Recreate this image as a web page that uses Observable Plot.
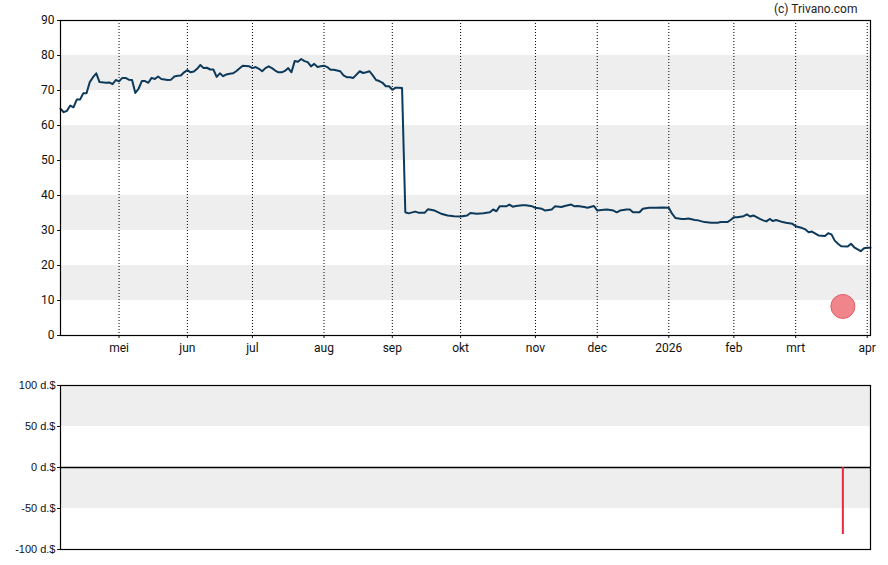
<!DOCTYPE html>
<html>
<head>
<meta charset="utf-8">
<script src="https://cdn.jsdelivr.net/npm/d3@7"></script>
<script src="https://cdn.jsdelivr.net/npm/@observablehq/plot@0.6"></script>
<style>
  html, body { margin: 0; padding: 0; background: #fff; }
  #chart svg { display: block; }
</style>
</head>
<body>
<div id="chart"></div>
<script>
// trading-day index (0 = first day shown, early April 2025; 249 = early April 2026)
const dayIndex = [0,1,2,3,4,5,6,7,8,9,10,11,12,14,15,16,17,18,19,20,21,22,23,24,25,26,27,28,29,30,31,33,34,35,36,37,38,39,40,41,42,43,44,45,46,47,48,49,50,51,52,53,54,56,58,59,60,61,62,63,64,65,66,67,68,69,70,71,72,73,74,75,76,77,78,79,80,81,82,83,84,86,87,88,89,90,92,93,94,95,96,97,98,99,100,101,102,103,104,105,106,107,109,110,112,113,115,117,119,121,123,125,126,128,130,132,133,134,135,137,138,139,140,142,143,145,146,148,149,151,152,154,155,157,158,159,161,162,164,165,167,168,170,171,172,174,175,176,178,179,181,183,185,187,188,189,191,192,193,195,196,198,200,202,203,205,206,207,208,210,211,212,213,215,216,217,218,219,220,222,223,225,226,228,229,230,231,233,235,236,237,238,239,240,242,243,244,246,247,248,249];
const closePrice = [64.8,63.8,64.2,65.7,65.2,67.4,67.4,69.2,69.2,72.4,73.8,74.9,72.4,72.2,72.3,71.8,73.0,72.6,73.6,73.6,73.1,73.0,69.3,70.5,72.7,72.7,72.2,73.6,73.3,74.0,73.3,73.0,73.1,74.0,74.2,74.3,75.2,75.8,75.2,75.4,76.2,77.3,76.4,76.5,76.0,76.0,73.9,74.9,74.1,74.6,74.8,74.9,75.5,77.1,76.9,76.4,76.7,76.2,75.5,76.4,76.9,76.4,75.7,75.2,75.2,75.6,76.4,75.2,78.4,78.2,79.0,78.4,78.1,76.9,77.6,76.7,76.9,77.1,76.7,75.9,75.9,75.5,74.3,73.8,73.8,73.6,75.5,75.0,75.2,75.5,74.3,73.0,72.7,72.2,71.2,71.2,70.2,70.8,70.8,70.7,35.2,34.9,35.4,35.1,35.1,36.1,35.7,34.8,34.3,34.1,34.0,34.3,35.0,34.8,34.9,35.2,36.0,35.5,36.9,36.9,37.4,36.8,37.0,37.2,37.2,36.9,36.5,36.2,35.7,36.0,36.9,36.7,37.0,37.4,36.9,37.0,36.7,36.5,37.0,35.7,35.9,36.0,35.7,35.2,35.7,36.0,36.0,35.2,35.2,36.2,36.5,36.5,36.6,36.5,34.8,33.6,33.3,33.3,33.4,33.0,32.9,32.4,32.2,32.2,32.4,32.4,33.0,33.8,33.8,34.1,34.6,34.0,34.3,33.3,32.9,32.6,33.3,32.7,33.0,32.4,32.2,31.9,31.2,30.7,30.3,29.5,29.7,28.6,28.4,29.2,28.9,27.1,26.2,25.5,25.4,26.2,25.2,24.1,24.9,25.1,25.1];

// month ticks (first trading day of each month)
const monthTickIndex = [18,39,59,81,102,123,146,165,187,207,226,248];
const monthLabels = ["mei","jun","jul","aug","sep","okt","nov","dec","2026","feb","mrt","apr"];

// price axis
const priceTicks = [0,10,20,30,40,50,60,70,80,90];
const priceBands = [[10,20],[30,40],[50,60],[70,80]];

// dividend
const dividendIndex = [240.5];
const dividendAmount = [-81.7];
const markerValue = [8.3];

// dividend panel axis
const divTicks = [-100,-50,0,50,100];
const divBands = [[50,100],[-50,0]];

const lastIndex = 249;
const series = dayIndex.map((d, i) => ({i: d, v: closePrice[i]}));
const monthMap = new Map(monthTickIndex.map((d, i) => [d, monthLabels[i]]));
const bandRows = priceBands.map(([a, b]) => ({a, b}));
const divBandRows = divBands.map(([a, b]) => ({a, b}));
const markers = dividendIndex.map((d, i) => ({i: d, v: markerValue[i]}));
const divRows = dividendIndex.map((d, i) => ({i: d, amt: dividendAmount[i]}));

const pricePlot = Plot.plot({
  width: 888,
  height: 365,
  marginTop: 20,
  marginBottom: 30,
  marginLeft: 60,
  marginRight: 18,
  style: {fontFamily: "Roboto", fontSize: "12px", color: "#111", background: "#fff"},
  x: {domain: [0, lastIndex], axis: null},
  y: {domain: [0, 90], axis: null},
  marks: [
    Plot.rect(bandRows, {y1: "a", y2: "b", fill: "#eeeeee"}),
    Plot.ruleX(monthTickIndex, {stroke: "#000", strokeDasharray: "1,2", strokeWidth: 1}),
    Plot.line(series, {x: "i", y: "v", stroke: "#0d3a5b", strokeWidth: 2, curve: "linear"}),
    Plot.dot(markers, {x: "i", y: "v", r: 12, fill: "#f0858b", stroke: "#e65b66", strokeWidth: 1}),
    Plot.frame({stroke: "#000", strokeWidth: 1.2}),
    Plot.axisY(priceTicks, {tickSize: 3, tickPadding: 3, fontSize: 12, label: null}),
    Plot.axisX(monthTickIndex, {tickSize: 3, tickPadding: 5, fontSize: 12, label: null, tickFormat: d => monthMap.get(d)}),
    Plot.text(["(c) Trivano.com"], {frameAnchor: "top-right", textAnchor: "end", lineAnchor: "middle", dx: -13, dy: -11.5, fontSize: 12, fill: "#222"})
  ]
});

const dividendPlot = Plot.plot({
  width: 888,
  height: 200,
  marginTop: 20,
  marginBottom: 16,
  marginLeft: 60,
  marginRight: 18,
  style: {fontFamily: "Arial, 'Liberation Sans'", fontSize: "11px", color: "#111", background: "#fff"},
  x: {domain: [0, lastIndex], axis: null},
  y: {domain: [-100, 100], axis: null},
  marks: [
    Plot.rect(divBandRows, {y1: "a", y2: "b", fill: "#eeeeee"}),
    Plot.ruleY([0], {stroke: "#000", strokeWidth: 1.3}),
    Plot.ruleX(divRows, {x: "i", y1: 0, y2: "amt", stroke: "#e8283c", strokeWidth: 2}),
    Plot.frame({stroke: "#000", strokeWidth: 1.2}),
    Plot.axisY(divTicks, {tickSize: 3, tickPadding: 2, fontSize: 11, label: null, tickFormat: d => d + " d.$"})
  ]
});

const root = document.getElementById("chart");
root.append(pricePlot, dividendPlot);
</script>
</body>
</html>
